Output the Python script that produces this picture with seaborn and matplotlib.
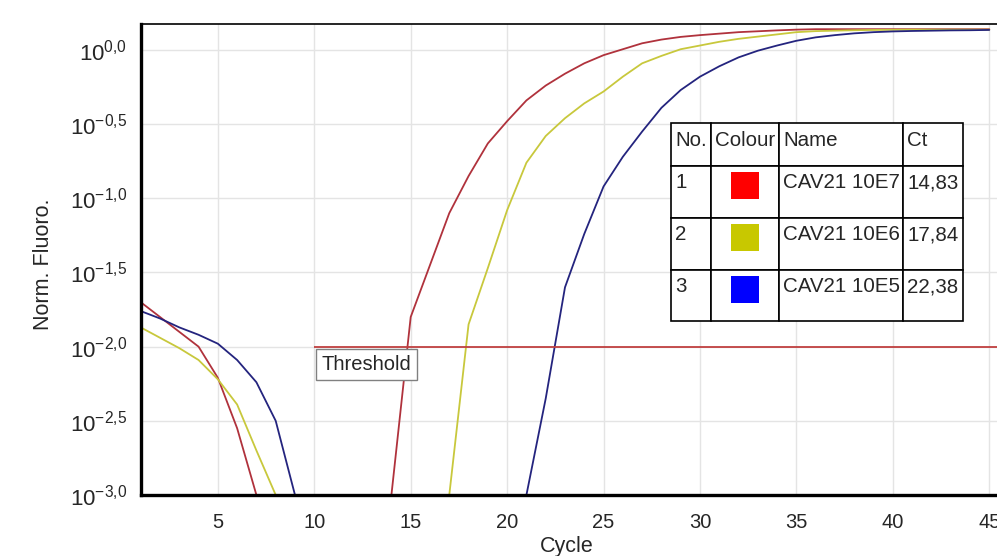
import numpy as np
import pandas as pd
import matplotlib
matplotlib.use('Agg')
import matplotlib.pyplot as plt
from matplotlib.patches import Rectangle
import seaborn as sns

# 读图得到的数据：每个循环的 log10(归一化荧光)，nan 表示低于坐标下限
cycles = list(range(1, 46))
red_log = [-1.70, -1.80, -1.90, -2.00, -2.21, -2.55, -3.00, np.nan, np.nan, np.nan,
           np.nan, np.nan, np.nan, -3.00, -1.80, -1.45, -1.10, -0.85, -0.63, -0.48,
           -0.34, -0.24, -0.16, -0.09, -0.035, 0.005, 0.045, 0.07, 0.088, 0.10,
           0.11, 0.12, 0.126, 0.132, 0.137, 0.14, 0.14, 0.14, 0.14, 0.14,
           0.14, 0.14, 0.14, 0.14, 0.14]
yellow_log = [-1.87, -1.94, -2.01, -2.09, -2.22, -2.39, -2.70, -3.00, np.nan, np.nan,
              np.nan, np.nan, np.nan, np.nan, np.nan, np.nan, -3.00, -1.85, -1.47, -1.08,
              -0.76, -0.58, -0.46, -0.36, -0.28, -0.18, -0.09, -0.04, 0.005, 0.03,
              0.055, 0.075, 0.09, 0.105, 0.12, 0.127, 0.13, 0.133, 0.135, 0.136,
              0.137, 0.137, 0.137, 0.137, 0.137]
blue_log = [-1.76, -1.81, -1.87, -1.92, -1.98, -2.09, -2.24, -2.50, -3.00, np.nan,
            np.nan, np.nan, np.nan, np.nan, np.nan, np.nan, np.nan, np.nan, np.nan, np.nan,
            -3.00, -2.35, -1.60, -1.24, -0.92, -0.72, -0.55, -0.39, -0.27, -0.18,
            -0.11, -0.05, -0.005, 0.03, 0.062, 0.085, 0.10, 0.112, 0.12, 0.125,
            0.128, 0.13, 0.132, 0.133, 0.135]

names = ['CAV21 10E7', 'CAV21 10E6', 'CAV21 10E5']
ct_values = ['14,83', '17,84', '22,38']
line_colors = ['#b0323c', '#c8c83c', '#24247e']
swatch_colors = ['#ff0000', '#c8c800', '#0000ff']
threshold = 0.01
threshold_start = 10

yticks_log = [-3.0, -2.5, -2.0, -1.5, -1.0, -0.5, 0.0]
ytick_labels = ['-3,0', '-2,5', '-2,0', '-1,5', '-1,0', '-0,5', '0,0']
xticks = [5, 10, 15, 20, 25, 30, 35, 40, 45]

# 整理成长表，按连续段编号
rows = []
for name, logs in zip(names, [red_log, yellow_log, blue_log]):
    seg = 0
    prev_nan = False
    for c, v in zip(cycles, logs):
        if np.isnan(v):
            prev_nan = True
            continue
        if prev_nan:
            seg += 1
            prev_nan = False
        rows.append({'Cycle': c, 'Fluoro': 10 ** v, 'Name': name, 'seg': seg})
df = pd.DataFrame(rows)

sns.set_style('white')
plt.rcParams['font.family'] = ['Liberation Sans', 'DejaVu Sans']
plt.rcParams['mathtext.fontset'] = 'custom'
plt.rcParams['mathtext.rm'] = 'Liberation Sans'
plt.rcParams['mathtext.it'] = 'Liberation Sans'

W, H = 997, 556
fig = plt.figure(figsize=(W / 100, H / 100), dpi=100)
left, right, top, bottom = 140.7, 997, 24, 495
ax = fig.add_axes([left / W, 1 - bottom / H, (right - left) / W, (bottom - top) / H])

sns.lineplot(data=df, x='Cycle', y='Fluoro', hue='Name', units='seg', estimator=None,
             palette=dict(zip(names, line_colors)), hue_order=names, legend=False,
             linewidth=1.3, ax=ax)
ax.set_yscale('log')
ax.set_xlim(1, 45.4)
ax.set_ylim(1e-3, 10 ** 0.175)

# 阈值线和标签
ax.hlines(threshold, threshold_start, 45.4, color='#c04040', lw=1.3, zorder=3)
ax.text(threshold_start + 0.4, 10 ** -2.12, 'Threshold', fontsize=14.5, ha='left', va='center',
        bbox=dict(boxstyle='square,pad=0.28', fc='white', ec='#808080', lw=1), zorder=4)

ax.set_yticks([10 ** v for v in yticks_log])
ax.set_yticklabels([r'$\mathregular{10^{%s}}$' % s.replace(',', '{,}') for s in ytick_labels])
ax.yaxis.set_minor_locator(matplotlib.ticker.NullLocator())
ax.set_xticks(xticks)
ax.set_xticklabels([str(x) for x in xticks])
ax.tick_params(axis='y', labelsize=16, length=6, width=1, color='#606060', pad=4)
ax.tick_params(axis='x', labelsize=14.5, length=6, width=1, color='#606060', pad=7)
ax.grid(True, color='#e4e4e4', lw=1)

for s in ['left', 'bottom']:
    ax.spines[s].set_linewidth(2.4)
    ax.spines[s].set_color('black')
ax.spines['top'].set_linewidth(1.2)
ax.spines['top'].set_color('black')
ax.spines['right'].set_visible(False)

ax.set_ylabel('Norm. Fluoro.', fontsize=15.5)
ax.set_xlabel('Cycle', fontsize=15.5)
ax.yaxis.set_label_coords(-0.101, 0.49)
ax.xaxis.set_label_coords(0.498, -0.086)


# 表格（像素坐标）
def fx(x):
    return x / W


def fy(y):
    return 1 - y / H


col_edges = [671, 711, 779, 903, 963]
row_edges = [123, 166, 218, 270, 321]
header = ['No.', 'Colour', 'Name', 'Ct']
table_rows = [[str(i + 1), '', names[i], ct_values[i]] for i in range(3)]
for r in range(4):
    for c in range(4):
        x0, x1 = col_edges[c], col_edges[c + 1]
        y0, y1 = row_edges[r], row_edges[r + 1]
        fig.add_artist(Rectangle((fx(x0), fy(y1)), fx(x1 - x0), (y1 - y0) / H,
                                 transform=fig.transFigure, fc='white', ec='black', lw=1.2))
        txt = header[c] if r == 0 else table_rows[r - 1][c]
        if txt:
            fig.text(fx(x0 + 4), fy(y0 + 17), txt, fontsize=14.8, ha='left', va='center')
    if r > 0:
        xc = (col_edges[1] + col_edges[2]) / 2
        y0 = row_edges[r]
        fig.add_artist(Rectangle((fx(xc - 14), fy(y0 + 33)), fx(28), 27 / H,
                                 transform=fig.transFigure, fc=swatch_colors[r - 1], ec='none'))

fig.savefig('out.png', dpi=100)
